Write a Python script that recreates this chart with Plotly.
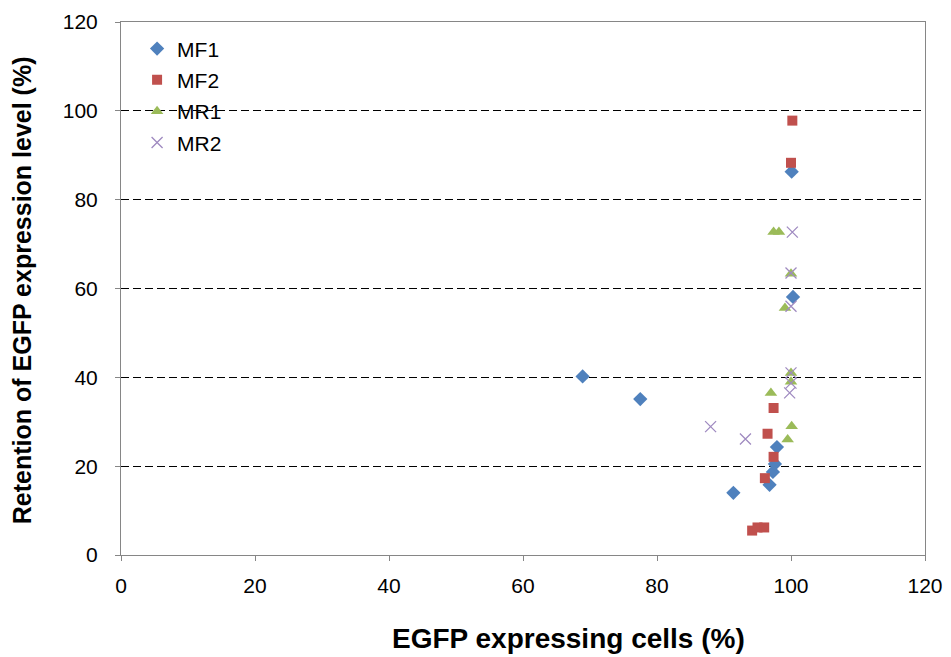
import plotly.graph_objects as go

mf1_x = [68.9, 77.5, 91.4, 96.8, 97.3, 97.6, 97.9, 100.3, 100.1]
mf1_y = [40.2, 35.1, 14.0, 15.8, 18.7, 20.5, 24.3, 58.1, 86.3]

mf2_x = [100.2, 100.0, 97.4, 96.5, 97.4, 96.1, 94.2, 95.0, 96.0]
mf2_y = [97.8, 88.3, 33.1, 27.3, 22.1, 17.3, 5.5, 6.2, 6.2]

mr1_x = [97.4, 98.2, 100.0, 99.1, 100.0, 100.0, 97.0, 100.1, 99.5]
mr1_y = [72.7, 72.7, 63.3, 55.6, 41.0, 39.0, 36.5, 29.0, 26.0]

mr2_x = [100.2, 100.0, 100.0, 100.0, 100.0, 99.8, 88.0, 93.2]
mr2_y = [72.7, 63.5, 56.0, 41.0, 38.7, 36.5, 28.9, 26.1]

x_ticks = [0, 20, 40, 60, 80, 100, 120]
y_ticks = [0, 20, 40, 60, 80, 100, 120]

FONT = "Liberation Sans, Arial, sans-serif"

fig = go.Figure()
fig.add_trace(go.Scatter(x=mf1_x, y=mf1_y, mode="markers", name="MF1", legendgroup="a",
                         marker=dict(symbol="diamond", size=11, color="#4F81BD")))
fig.add_trace(go.Scatter(x=mf2_x, y=mf2_y, mode="markers", name="MF2", legendgroup="b",
                         marker=dict(symbol="square", size=10, color="#C0504D")))
fig.add_trace(go.Scatter(x=mr1_x, y=mr1_y, mode="markers", name="MR1", legendgroup="c",
                         marker=dict(symbol="triangle-up", size=11, color="#9BBB59")))
fig.add_trace(go.Scatter(x=mr2_x, y=mr2_y, mode="markers", name="MR2", legendgroup="d",
                         marker=dict(symbol="x-thin", size=11, color="#8064A2",
                                     line=dict(color="#9F8AC0", width=1.3))))

axis_common = dict(
    showline=True, linecolor="#868686", linewidth=1, mirror=True,
    ticks="outside", ticklen=5, tickcolor="#868686",
    zeroline=False, automargin=False,
    tickfont=dict(family=FONT, size=21, color="#000000"),
)

fig.update_xaxes(range=[0, 120], tickvals=x_ticks, showgrid=False,
                 ticklabelstandoff=7, **axis_common)
fig.update_yaxes(range=[0, 120], tickvals=y_ticks, showgrid=True,
                 gridcolor="#000000", griddash="8px,4px", gridwidth=1,
                 ticklabelstandoff=13, **axis_common)

fig.add_annotation(text="<b>EGFP expressing cells (%)</b>", xref="paper", yref="paper",
                   x=0.556, y=-0.156, xanchor="center", yanchor="middle", showarrow=False,
                   font=dict(family=FONT, size=28, color="#000"))
fig.add_annotation(text="<b>Retention of EGFP expression level (%)</b>", xref="paper", yref="paper",
                   x=-0.123, y=0.497, xanchor="center", yanchor="middle", showarrow=False,
                   textangle=-90, font=dict(family=FONT, size=25, color="#000"))

fig.update_layout(
    width=951, height=657,
    margin=dict(l=121, r=26, t=22, b=102),
    plot_bgcolor="white", paper_bgcolor="white",
    font=dict(family=FONT, color="#000"),
    legend=dict(x=0.02, y=0.988, xanchor="left", yanchor="top",
                font=dict(family=FONT, size=21, color="#000"),
                bgcolor="rgba(0,0,0,0)", itemwidth=30, tracegroupgap=1,
                traceorder="grouped"),
    showlegend=True,
)

fig.write_html("out.html", config={"displayModeBar": False},
               post_script="document.body.style.margin='0';document.body.style.overflow='hidden';")
